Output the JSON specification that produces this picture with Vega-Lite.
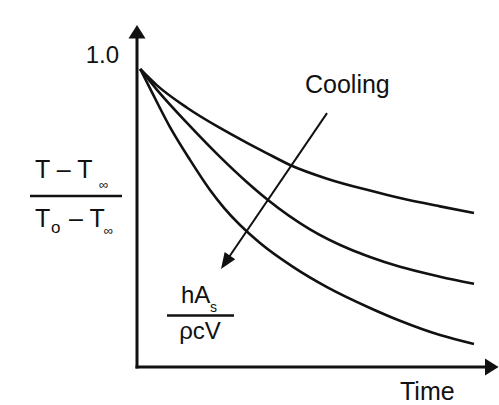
{
  "$schema": "https://vega.github.io/schema/vega-lite/v6.json",
  "width": 362,
  "height": 347,
  "autosize": "none",
  "padding": {"left": 137, "top": 20, "right": 0, "bottom": 38},
  "background": "white",
  "config": {
    "view": {"stroke": null},
    "text": {"font": "Liberation Sans", "color": "#111"}
  },
  "datasets": {
    "curves": [
      {"series": "low", "t": 0.08, "theta": 1.0},
      {"series": "low", "t": 0.5, "theta": 0.945},
      {"series": "low", "t": 1.25, "theta": 0.87},
      {"series": "low", "t": 2.075, "theta": 0.802},
      {"series": "low", "t": 2.75, "theta": 0.752},
      {"series": "low", "t": 3.25, "theta": 0.717},
      {"series": "low", "t": 3.825, "theta": 0.678},
      {"series": "low", "t": 4.75, "theta": 0.632},
      {"series": "low", "t": 5.825, "theta": 0.592},
      {"series": "low", "t": 6.575, "theta": 0.567},
      {"series": "low", "t": 7.575, "theta": 0.539},
      {"series": "low", "t": 8.425, "theta": 0.517},
      {"series": "mid", "t": 0.08, "theta": 1.0},
      {"series": "mid", "t": 0.5, "theta": 0.93},
      {"series": "mid", "t": 1.25, "theta": 0.819},
      {"series": "mid", "t": 2.075, "theta": 0.705},
      {"series": "mid", "t": 2.75, "theta": 0.62},
      {"series": "mid", "t": 3.25, "theta": 0.563},
      {"series": "mid", "t": 4.325, "theta": 0.462},
      {"series": "mid", "t": 5.325, "theta": 0.395},
      {"series": "mid", "t": 5.825, "theta": 0.369},
      {"series": "mid", "t": 6.575, "theta": 0.336},
      {"series": "mid", "t": 7.575, "theta": 0.303},
      {"series": "mid", "t": 8.425, "theta": 0.279},
      {"series": "high", "t": 0.08, "theta": 1.0},
      {"series": "high", "t": 0.325, "theta": 0.935},
      {"series": "high", "t": 0.825, "theta": 0.805},
      {"series": "high", "t": 1.325, "theta": 0.695},
      {"series": "high", "t": 1.825, "theta": 0.594},
      {"series": "high", "t": 2.175, "theta": 0.534},
      {"series": "high", "t": 3.075, "theta": 0.416},
      {"series": "high", "t": 3.9, "theta": 0.336},
      {"series": "high", "t": 4.75, "theta": 0.268},
      {"series": "high", "t": 5.825, "theta": 0.198},
      {"series": "high", "t": 6.575, "theta": 0.155},
      {"series": "high", "t": 7.575, "theta": 0.107},
      {"series": "high", "t": 8.425, "theta": 0.077}
    ],
    "axes": [
      {"axis": "y", "t": 0, "theta": 0, "t2": 0, "theta2": 1.111},
      {"axis": "x", "t": 0, "theta": 0, "t2": 8.775, "theta2": 0}
    ]
  },
  "layer": [
    {
      "data": {"name": "axes"},
      "mark": {"type": "rule", "stroke": "#111", "strokeWidth": 3, "strokeCap": "square"},
      "encoding": {
        "x": {"field": "t", "type": "quantitative", "scale": {"domain": [0, 9.05], "nice": false, "zero": false}, "axis": null},
        "y": {"field": "theta", "type": "quantitative", "scale": {"domain": [0, 1.1644], "nice": false, "zero": false}, "axis": null},
        "x2": {"field": "t2"},
        "y2": {"field": "theta2"}
      }
    },
    {
      "data": {"values": [{"head": "y"}]},
      "mark": {"type": "point", "shape": "M0,0L1,1.6L-1,1.6Z", "size": 289, "filled": true, "fill": "#111", "opacity": 1, "strokeWidth": 0},
      "encoding": {"x": {"datum": 0}, "y": {"datum": 1.1477}}
    },
    {
      "data": {"values": [{"head": "x"}]},
      "mark": {"type": "point", "shape": "M0,0L-1.6,-1L-1.6,1Z", "size": 289, "filled": true, "fill": "#111", "opacity": 1, "strokeWidth": 0},
      "encoding": {"x": {"datum": 9.04}, "y": {"datum": 0}}
    },
    {
      "data": {"name": "curves"},
      "mark": {"type": "line", "stroke": "#111", "strokeWidth": 2.6, "interpolate": "monotone"},
      "encoding": {
        "x": {"field": "t", "type": "quantitative"},
        "y": {"field": "theta", "type": "quantitative"},
        "detail": {"field": "series"}
      }
    },
    {
      "data": {"values": [{"arrow": "cooling"}]},
      "mark": {"type": "rule", "stroke": "#111", "strokeWidth": 2},
      "encoding": {"x": {"datum": 4.75}, "y": {"datum": 0.852}, "x2": {"datum": 2.25}, "y2": {"datum": 0.359}}
    },
    {
      "data": {"values": [{"arrow": "cooling"}]},
      "mark": {"type": "point", "shape": "M0,0L0.8,2L-0.8,2Z", "size": 256, "angle": 214, "filled": true, "fill": "#111", "opacity": 1, "strokeWidth": 0},
      "encoding": {"x": {"datum": 2.1}, "y": {"datum": 0.329}}
    },
    {
      "data": {"values": [{"bar": "ratio"}]},
      "mark": {"type": "rule", "stroke": "#111", "strokeWidth": 2.5},
      "encoding": {"x": {"datum": -2.675}, "y": {"datum": 0.574}, "x2": {"datum": -0.375}}
    },
    {
      "data": {"values": [{"bar": "group"}]},
      "mark": {"type": "rule", "stroke": "#111", "strokeWidth": 2.5},
      "encoding": {"x": {"datum": 0.75}, "y": {"datum": 0.173}, "x2": {"datum": 2.425}}
    },
    {
      "data": {"values": [{"label": "1.0"}]},
      "mark": {"type": "text", "align": "right", "baseline": "alphabetic", "fontSize": 24},
      "encoding": {"text": {"field": "label"}, "x": {"datum": -0.45}, "y": {"datum": 1.02}}
    },
    {
      "data": {"values": [{"label": "T – T"}]},
      "mark": {"type": "text", "align": "left", "baseline": "alphabetic", "fontSize": 25},
      "encoding": {"text": {"field": "label"}, "x": {"datum": -2.55}, "y": {"datum": 0.634}}
    },
    {
      "data": {"values": [{"label": "∞"}]},
      "mark": {"type": "text", "align": "left", "baseline": "alphabetic", "fontSize": 13},
      "encoding": {"text": {"field": "label"}, "x": {"datum": -0.95}, "y": {"datum": 0.597}}
    },
    {
      "data": {"values": [{"label": "T"}]},
      "mark": {"type": "text", "align": "left", "baseline": "alphabetic", "fontSize": 25},
      "encoding": {"text": {"field": "label"}, "x": {"datum": -2.55}, "y": {"datum": 0.47}}
    },
    {
      "data": {"values": [{"label": "o"}]},
      "mark": {"type": "text", "align": "left", "baseline": "alphabetic", "fontSize": 17},
      "encoding": {"text": {"field": "label"}, "x": {"datum": -2.15}, "y": {"datum": 0.45}}
    },
    {
      "data": {"values": [{"label": "– T"}]},
      "mark": {"type": "text", "align": "left", "baseline": "alphabetic", "fontSize": 25},
      "encoding": {"text": {"field": "label"}, "x": {"datum": -1.7}, "y": {"datum": 0.47}}
    },
    {
      "data": {"values": [{"label": "∞"}]},
      "mark": {"type": "text", "align": "left", "baseline": "alphabetic", "fontSize": 13},
      "encoding": {"text": {"field": "label"}, "x": {"datum": -0.83}, "y": {"datum": 0.443}}
    },
    {
      "data": {"values": [{"label": "Cooling"}]},
      "mark": {"type": "text", "align": "left", "baseline": "alphabetic", "fontSize": 25},
      "encoding": {"text": {"field": "label"}, "x": {"datum": 4.2}, "y": {"datum": 0.919}}
    },
    {
      "data": {"values": [{"label": "hA"}]},
      "mark": {"type": "text", "align": "left", "baseline": "alphabetic", "fontSize": 24},
      "encoding": {"text": {"field": "label"}, "x": {"datum": 1.1}, "y": {"datum": 0.215}}
    },
    {
      "data": {"values": [{"label": "s"}]},
      "mark": {"type": "text", "align": "left", "baseline": "alphabetic", "fontSize": 14},
      "encoding": {"text": {"field": "label"}, "x": {"datum": 1.825}, "y": {"datum": 0.185}}
    },
    {
      "data": {"values": [{"label": "ρcV"}]},
      "mark": {"type": "text", "align": "center", "baseline": "alphabetic", "fontSize": 24},
      "encoding": {"text": {"field": "label"}, "x": {"datum": 1.575}, "y": {"datum": 0.094}}
    },
    {
      "data": {"values": [{"label": "Time"}]},
      "mark": {"type": "text", "align": "left", "baseline": "alphabetic", "fontSize": 25},
      "encoding": {"text": {"field": "label"}, "x": {"datum": 6.575}, "y": {"datum": -0.11}}
    }
  ]
}
